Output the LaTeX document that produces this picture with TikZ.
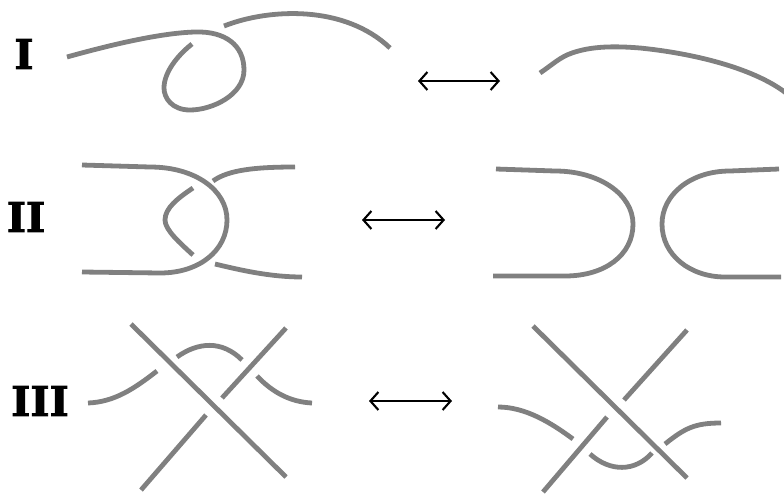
\documentclass[tikz,border=0pt]{standalone}
\usepackage{fontspec}
\setmainfont{DejaVu Serif}
\newfontfamily\labelfont[FakeBold=2.2]{DejaVu Serif Bold}
\usetikzlibrary{arrows.meta}
\definecolor{strand}{HTML}{808080}
\tikzset{
  x=1pt,y=-1pt,
  strandline/.style={draw=strand,line width=4.8pt,line cap=butt,line join=round},
  movearrow/.style={draw=black,line width=2.1pt,{Straight Barb[length=8pt,width=18pt,line width=2.1pt]}-{Straight Barb[length=8pt,width=18pt,line width=2.1pt]}},
  movelabel/.style={font=\fontsize{41}{41}\labelfont,text=black,inner sep=0pt,anchor=center}
}
\begin{document}
\begin{tikzpicture}
\useasboundingbox (0,0) rectangle (784,493);
% labels
\node[movelabel] (l1) at (24,54) {I};
\node[movelabel] (l2) at (26,217) {II};
\node[movelabel] (l3) at (40,401) {III};
% arrows
\coordinate (a1l) at (418,81); \coordinate (a1r) at (500,81);
\coordinate (a2l) at (362,220); \coordinate (a2r) at (445,220);
\coordinate (a3l) at (369,401); \coordinate (a3r) at (452,401);
\draw[movearrow] (a1l) -- (a1r);
\draw[movearrow] (a2l) -- (a2r);
\draw[movearrow] (a3l) -- (a3r);
% move I left
\draw[strandline] (67,57) .. controls (110,45) and (160,33) .. (195,32) .. controls (225,31) and (244,45) .. (244,70) .. controls (244,95) and (212,110) .. (190,110) .. controls (172,110) and (164,98) .. (164,88) .. controls (164,72) and (178,55) .. (192,44);
\draw[strandline] (224,26) .. controls (270,8) and (345,5) .. (390,48);
% move I right
\draw[strandline] (540,73) .. controls (552,65) and (560,57) .. (572,53) .. controls (592,46) and (615,46) .. (640,48) .. controls (690,53) and (752,67) .. (786,93);
% move II left
\draw[strandline] (82,165) -- (150,167) .. controls (195,167) and (227,190) .. (227,220) .. controls (227,250) and (200,273) .. (160,273) -- (82,272);
\draw[strandline] (193,188) .. controls (178,198) and (165,208) .. (165,220) .. controls (165,230) and (180,243) .. (193,255);
\draw[strandline] (213,181) .. controls (228,170) and (255,167) .. (295,167);
\draw[strandline] (215,264) .. controls (240,270) and (270,277) .. (302,277);
% move II right
\draw[strandline] (496,169) -- (555,171) .. controls (600,171) and (633,195) .. (633,224) .. controls (633,255) and (605,276) .. (565,276) -- (493,276);
\draw[strandline] (779,169) -- (730,171) .. controls (690,171) and (662,195) .. (662,224) .. controls (662,255) and (690,277) .. (725,277) -- (781,277);
% move III left
\draw[strandline] (131,324) -- (286,477);
\draw[strandline] (286,328) -- (222,398);
\draw[strandline] (206,415) -- (141,490);
\draw[strandline] (88,403) .. controls (115,402) and (135,388) .. (157,371);
\draw[strandline] (177,357) .. controls (198,342) and (222,340) .. (242,360);
\draw[strandline] (257,376) .. controls (272,392) and (290,402) .. (312,403);
% move III right
\draw[strandline] (533,326) -- (687,478);
\draw[strandline] (687,330) -- (624,400);
\draw[strandline] (607,417) -- (543,492);
\draw[strandline] (498,407) .. controls (525,407) and (550,422) .. (573,439);
\draw[strandline] (590,454) .. controls (610,472) and (635,472) .. (652,453);
\draw[strandline] (665,444) .. controls (685,428) and (695,423) .. (721,423);
\end{tikzpicture}
\end{document}
